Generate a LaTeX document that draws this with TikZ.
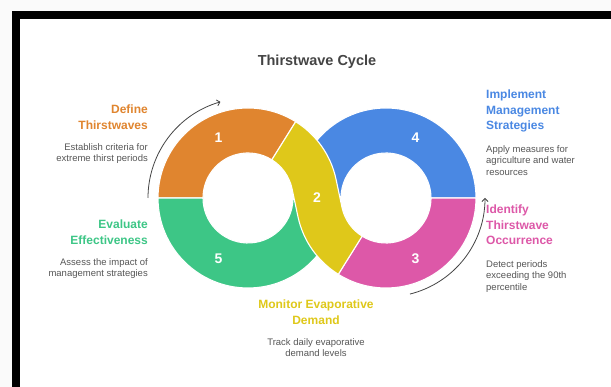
\documentclass[tikz,border=0pt]{standalone}
\usepackage{fontspec}
\setmainfont{Liberation Sans}
\usetikzlibrary{calc,arrows.meta,positioning}

\definecolor{defclr}{HTML}{E0852F}
\definecolor{monclr}{HTML}{DFC81A}
\definecolor{idclr}{HTML}{DD58A8}
\definecolor{impclr}{HTML}{4A88E3}
\definecolor{evclr}{HTML}{3DC686}
\definecolor{descgray}{HTML}{575757}
\definecolor{titlegray}{HTML}{444444}

\begin{document}
\begin{tikzpicture}[x=1pt,y=1pt,
    seg/.style={draw=white,line width=1.1pt},
    num/.style={text=white,font=\fontsize{14}{14}\selectfont\bfseries},
    head/.style={font=\fontsize{12}{15.5}\selectfont\bfseries,inner sep=0pt},
    desc/.style={font=\fontsize{9.5}{11.5}\selectfont,text=descgray,inner sep=0pt},
    cyc/.style={draw=titlegray,line width=0.8pt,-{Straight Barb[length=3pt,width=6pt]}}]
  \useasboundingbox (0,0) rectangle (611,387);
  % frame
  \fill[gray!4] (0,0) rectangle (611,387);
  \fill[black] (12,0) rectangle (611,376);
  \fill[white] (20,0) rectangle (611,367.5);

  \coordinate (c1) at (248,189);
  \coordinate (c2) at (386,189);

  % ring pieces
  \path[fill=defclr,seg] ($(c1)+(180:90)$) arc[start angle=180,end angle=58,radius=90]
    -- ($(c1)+(58:45)$) arc[start angle=58,end angle=180,radius=45] -- cycle;
  \path[fill=evclr,seg] ($(c1)+(180:90)$) arc[start angle=180,end angle=358,radius=90]
    -- ($(c1)+(358:45)$) arc[start angle=358,end angle=180,radius=45] -- cycle;
  \path[fill=impclr,seg] ($(c2)+(0:90)$) arc[start angle=0,end angle=178,radius=90]
    -- ($(c2)+(178:45)$) arc[start angle=178,end angle=0,radius=45] -- cycle;
  \path[fill=idclr,seg] ($(c2)+(360:90)$) arc[start angle=360,end angle=238,radius=90]
    -- ($(c2)+(238:45)$) arc[start angle=238,end angle=360,radius=45] -- cycle;
  % crossing band
  \path[fill=monclr,seg] ($(c1)+(58:90)$) arc[start angle=58,end angle=12,radius=90]
    .. controls +(-78:12) and +(102:12) .. ($(c2)+(192:45)$)
    arc[start angle=192,end angle=238,radius=45]
    -- ($(c2)+(238:90)$) arc[start angle=238,end angle=192,radius=90]
    .. controls +(102:12) and +(-78:12) .. ($(c1)+(12:45)$)
    arc[start angle=12,end angle=58,radius=45] -- cycle;

  \node[num] (n1) at ($(c1)+(116:67.5)$) {1};
  \node[num] (n2) at ($(c1)!0.5!(c2)$) {2};
  \node[num] (n3) at ($(c2)+(-64:67.5)$) {3};
  \node[num] (n4) at ($(c2)+(64:67.5)$) {4};
  \node[num] (n5) at ($(c1)+(244:67.5)$) {5};

  % cycle arrows
  \draw[cyc] ($(c1)+(180:100)$) arc[start angle=180,end angle=106,radius=100];
  \draw[cyc] ($(c2)+(-76:99)$) arc[start angle=-76,end angle=0,radius=99];

  \node[inner sep=0pt,anchor=north,text=titlegray,font=\fontsize{14.5}{17}\selectfont\bfseries]
    (ttl) at (317,332) {Thirstwave Cycle};

  \node[head,text=defclr,align=right,anchor=north east] (def) at (148,282) {Define\\Thirstwaves};
  \node[desc,align=right,anchor=north east] (defd) at (148,243.7) {Establish criteria for\\extreme thirst periods};
  \node[head,text=evclr,align=right,anchor=north east] (ev) at (148,167) {Evaluate\\Effectiveness};
  \node[desc,align=right,anchor=north east] (evd) at (148,129) {Assess the impact of\\management strategies};

  \node[head,text=impclr,align=left,anchor=north west] (imp) at (486,297) {Implement\\Management\\Strategies};
  \node[desc,align=left,anchor=north west] (impd) at (486,242) {Apply measures for\\agriculture and water\\resources};
  \node[head,text=idclr,align=left,anchor=north west] (id) at (486,182) {Identify\\Thirstwave\\Occurrence};
  \node[desc,align=left,anchor=north west] (idd) at (486,127) {Detect periods\\exceeding the 90th\\percentile};

  \node[head,text=monclr,align=center,anchor=north] (mon) at (316,87) {Monitor Evaporative\\Demand};
  \node[desc,align=center,anchor=north] (mond) at (316,49) {Track daily evaporative\\demand levels};
\end{tikzpicture}
\end{document}
